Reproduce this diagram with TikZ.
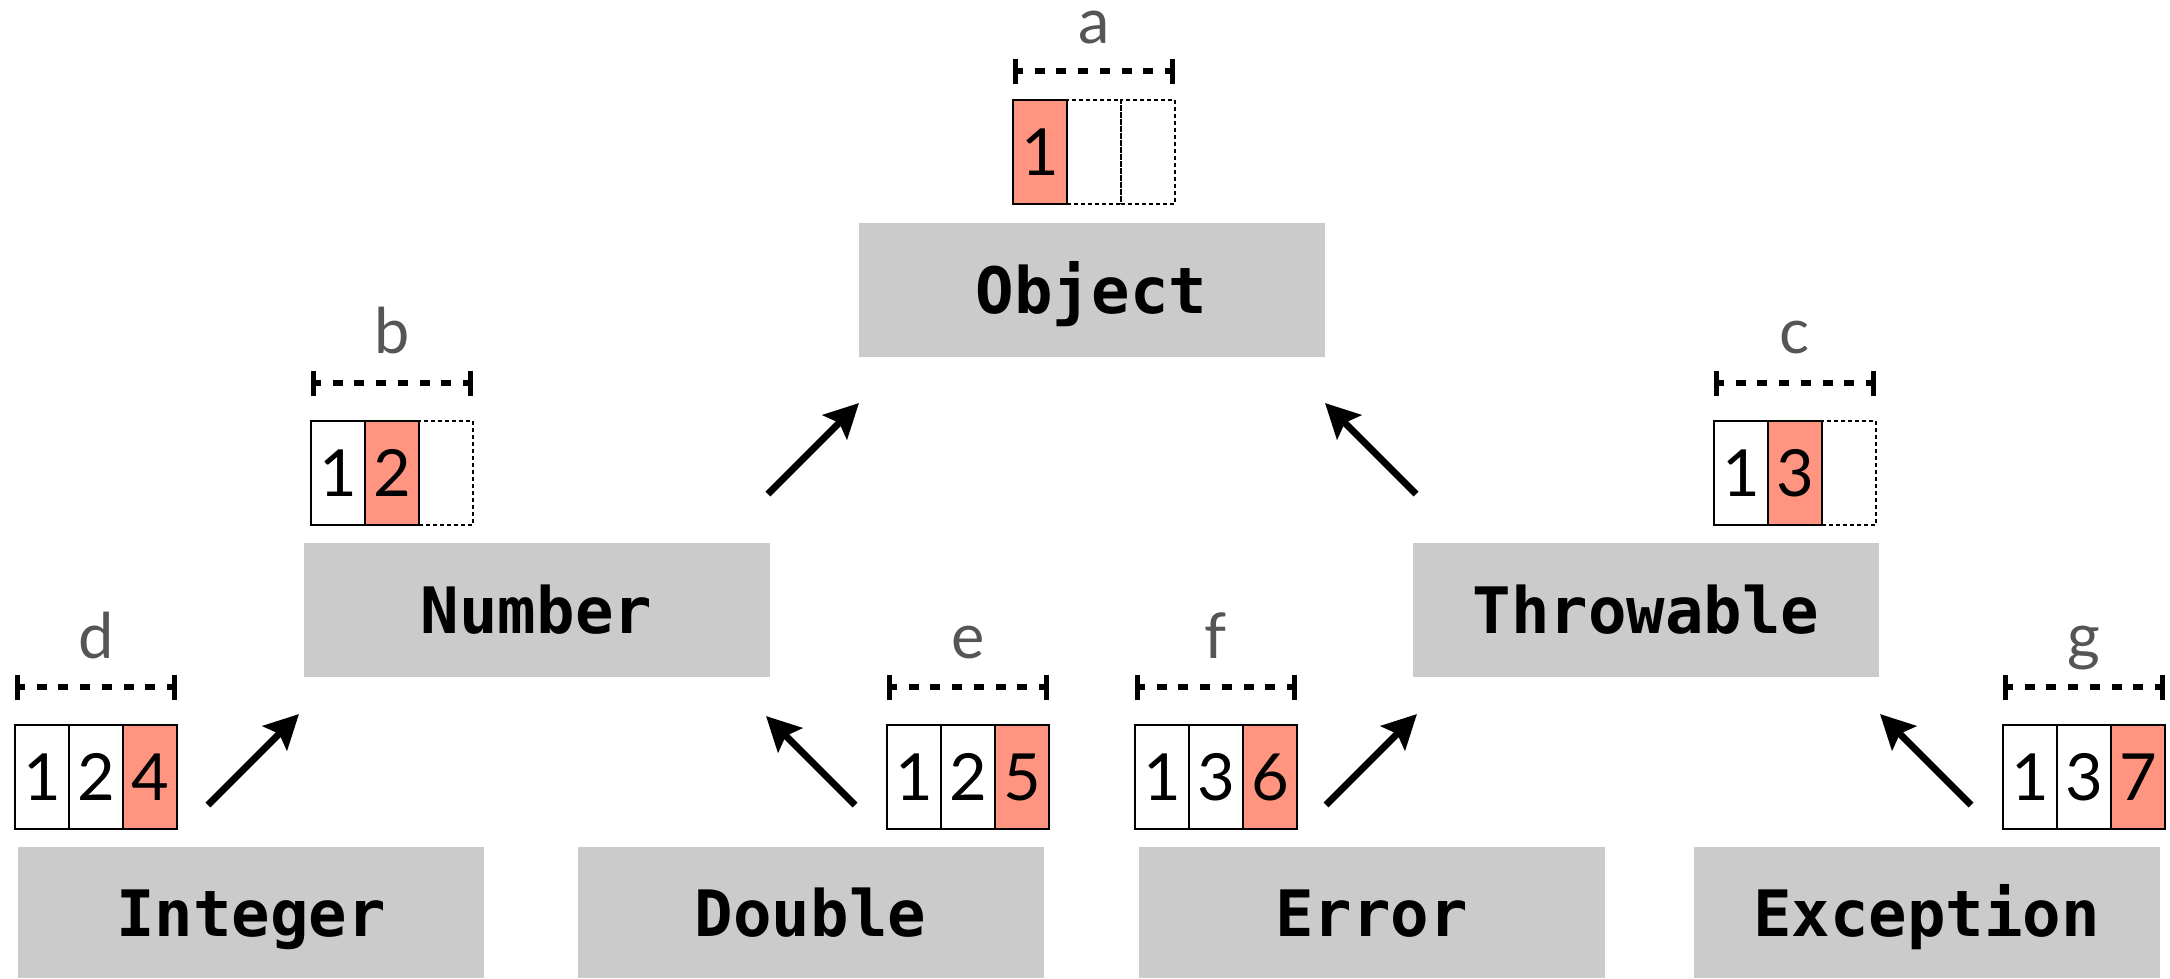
\documentclass[tikz,border=0pt]{standalone}
\usepackage{fontspec}
\setmainfont{Lato}
\newfontfamily\codefont{DejaVu Sans Mono}
\usetikzlibrary{arrows.meta}
\definecolor{salmon}{HTML}{FF9580}
\definecolor{boxgray}{HTML}{CBCBCB}
\definecolor{lblgray}{HTML}{555555}
\newcommand\bracketover[3]{%
  \draw[brk] ([yshift=#3]#1.north west) -- ([yshift=#3]#2.north east);
  \draw[tick] ([shift={(2.5pt,#3+12.5pt)}]#1.north west) -- ([shift={(2.5pt,#3-12.5pt)}]#1.north west);
  \draw[tick] ([shift={(-2.5pt,#3+12.5pt)}]#2.north east) -- ([shift={(-2.5pt,#3-12.5pt)}]#2.north east);
}
\begin{document}
\begin{tikzpicture}[x=1pt,y=-1pt,
  cls/.style={fill=boxgray, minimum width=466pt, minimum height=134pt, inner sep=0pt, outer sep=0pt,
    text height=47pt, text depth=0pt, font=\codefont\bfseries\fontsize{64}{64}\selectfont},
  cell/.style={draw=black, line width=2.5pt, minimum width=54pt, minimum height=104pt, inner sep=0pt, outer sep=0pt,
    text height=47pt, text depth=0pt, font=\fontsize{65}{65}\selectfont, anchor=north west},
  hot/.style={cell, fill=salmon},
  vacant/.style={cell, dash pattern=on 4pt off 3pt, line width=2pt},
  lbl/.style={text=lblgray, font=\fontsize{63}{63}\selectfont, anchor=base, inner sep=0pt},
  brk/.style={line width=6.5pt, dash pattern=on 10pt off 11.7pt},
  tick/.style={line width=5pt},
  inh/.style={line width=7pt, -{Stealth[length=34pt,width=34pt,inset=6pt]}}
]
\useasboundingbox (0,0) rectangle (2170,978);

% class boxes
\node[cls] (obj) at (1091.5,290) {Object};
\node[cls] (num) at (536.5,609.5) {Number};
\node[cls] (thr) at (1646,609.5) {Throwable};
\node[cls, minimum height=131pt] (int) at (251,912.5) {Integer};
\node[cls, minimum height=131pt] (dbl) at (810.5,912.5) {Double};
\node[cls, minimum height=131pt] (err) at (1371.5,912.5) {Error};
\node[cls, minimum height=131pt] (exc) at (1926.5,912.5) {Exception};

% array a
\node[vacant] (a2) at (1067,100) {};
\node[vacant] (a3) at (1121,100) {};
\node[hot] (a1) at (1013,100) {1};
\bracketover{a1}{a3}{29pt}
\node[lbl] (la) at (1094,43) {a};

% array b
\node[vacant] (b3) at (419,421) {};
\node[cell] (b1) at (311,421) {1};
\node[hot] (b2) at (365,421) {2};
\bracketover{b1}{b3}{38pt}
\node[lbl] (lb) at (392,353) {b};

% array c
\node[vacant] (c3) at (1822,421) {};
\node[cell] (c1) at (1714,421) {1};
\node[hot] (c2) at (1768,421) {3};
\bracketover{c1}{c3}{38pt}
\node[lbl] (lc) at (1795,353) {c};

% array d
\node[cell] (d1) at (15,725) {1};
\node[cell] (d2) at (69,725) {2};
\node[hot] (d3) at (123,725) {4};
\bracketover{d1}{d3}{38pt}
\node[lbl] (ld) at (96,658) {d};

% array e
\node[cell] (e1) at (887,725) {1};
\node[cell] (e2) at (941,725) {2};
\node[hot] (e3) at (995,725) {5};
\bracketover{e1}{e3}{38pt}
\node[lbl] (le) at (968,658) {e};

% array f
\node[cell] (f1) at (1135,725) {1};
\node[cell] (f2) at (1189,725) {3};
\node[hot] (f3) at (1243,725) {6};
\bracketover{f1}{f3}{38pt}
\node[lbl] (lf) at (1216,658) {f};

% array g
\node[cell] (g1) at (2003,725) {1};
\node[cell] (g2) at (2057,725) {3};
\node[hot] (g3) at (2111,725) {7};
\bracketover{g1}{g3}{38pt}
\node[lbl] (lg) at (2084,658) {g};

% inheritance arrows
\coordinate (n0) at (768,494);  \coordinate (n1) at (859,403);
\coordinate (t0) at (1416,494); \coordinate (t1) at (1325,403);
\coordinate (i0) at (208,805);  \coordinate (i1) at (299,714);
\coordinate (d0) at (855,805);  \coordinate (dd1) at (766,716);
\coordinate (r0) at (1326,805); \coordinate (r1) at (1417,714);
\coordinate (x0) at (1971,805); \coordinate (x1) at (1880,714);
\draw[inh] (n0) -- (n1);
\draw[inh] (t0) -- (t1);
\draw[inh] (i0) -- (i1);
\draw[inh] (d0) -- (dd1);
\draw[inh] (r0) -- (r1);
\draw[inh] (x0) -- (x1);
\end{tikzpicture}
\end{document}
